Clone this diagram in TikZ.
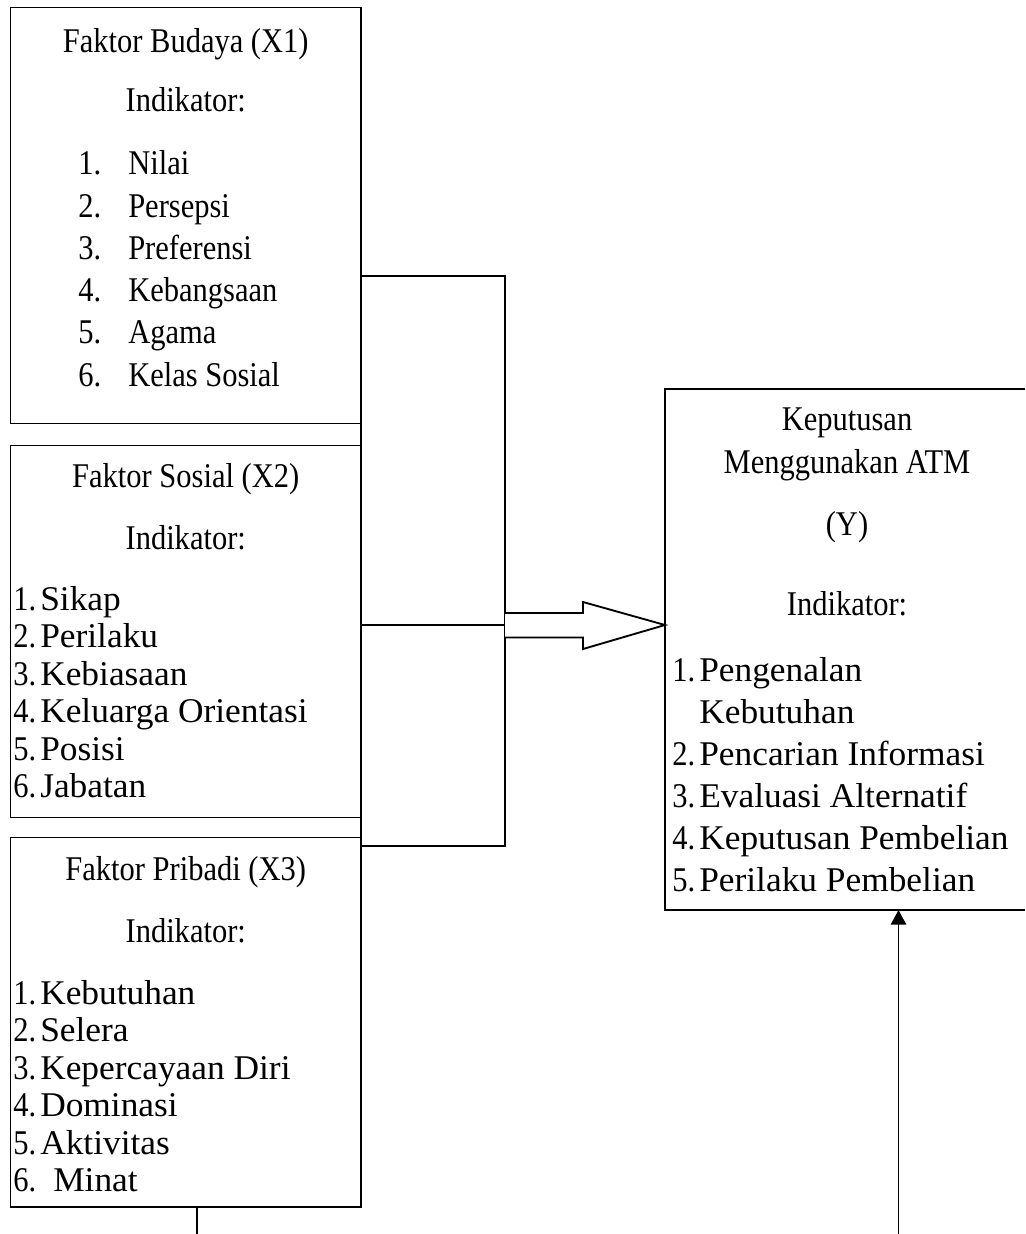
\documentclass[tikz,border=0pt]{standalone}
\usepackage{fontspec}
\setmainfont[FakeStretch=0.88]{Liberation Serif}
\newfontfamily\widefont[FakeStretch=1.02]{Liberation Serif}
\usetikzlibrary{fit,arrows.meta}
\begin{document}
\begin{tikzpicture}[x=0.75pt,y=-0.75pt,
  box/.style={draw, line width=1.4pt, inner sep=0pt, outer sep=0pt},
  txt/.style={font=\fontsize{26pt}{30pt}\selectfont, inner sep=0pt, anchor=base},
  item/.style={txt, anchor=base west},
  witem/.style={item, font=\fontsize{26pt}{30pt}\widefont},
  conn/.style={line width=1.4pt}]
\useasboundingbox (0,0) rectangle (1025,1234);

% boxes
\node[box, fit={(10.5,7.5) (361,423.5)}] (x1) {};
\node[box, fit={(10.5,445.5) (361,817.5)}] (x2) {};
\node[box, fit={(10.5,837.5) (361,1207)}] (x3) {};
\node[inner sep=0pt, outer sep=0pt, fit={(665,389) (1025,910)}] (y) {};
\draw[conn] (y.north east) -- (y.north west) -- (y.south west) -- (y.south east);

% X1
\node[txt] (x1title) at (185.75,53) {Faktor Budaya (X1)};
\node[txt] (x1ind) at (185.75,112) {Indikator:};
\foreach \t [count=\i] in {Nilai,Persepsi,Preferensi,Kebangsaan,Agama,Kelas Sosial} {
  \node[item] (x1n\i) at (78,{175+42.2*(\i-1)}) {\i.};
  \node[item] (x1t\i) at (128,{175+42.2*(\i-1)}) {\t};
}

% X2
\node[txt] (x2title) at (185.75,487) {Faktor Sosial (X2)};
\node[txt] (x2ind) at (185.75,549) {Indikator:};
\foreach \t [count=\i] in {Sikap,Perilaku,Kebiasaan,Keluarga Orientasi,Posisi,Jabatan} {
  \node[item] (x2n\i) at (13,{610+37.5*(\i-1)}) {\i.};
  \node[witem] (x2t\i) at (40,{610+37.5*(\i-1)}) {\t};
}

% X3
\node[txt] (x3title) at (185.75,880) {Faktor Pribadi (X3)};
\node[txt] (x3ind) at (185.75,942) {Indikator:};
\foreach \t/\xx [count=\i] in {Kebutuhan/40,Selera/40,Kepercayaan Diri/40,Dominasi/40,Aktivitas/40,Minat/53} {
  \node[item] (x3n\i) at (13,{1004+37.5*(\i-1)}) {\i.};
  \node[witem] (x3t\i) at (\xx,{1004+37.5*(\i-1)}) {\t};
}

% Y
\node[txt] (yt1) at (847,430) {Keputusan};
\node[txt] (yt2) at (847,473) {Menggunakan ATM};
\node[txt] (yt3) at (847,535) {(Y)};
\node[txt] (yind) at (847,615) {Indikator:};
\node[item] (yn1) at (672,681) {1.};
\node[witem] (yi1) at (699,681) {Pengenalan};
\node[witem] (yi1b) at (699,723) {Kebutuhan};
\foreach \t [count=\i from 2] in {Pencarian Informasi,Evaluasi Alternatif,Keputusan Pembelian,Perilaku Pembelian} {
  \node[item] (yn\i) at (672,{765+42.2*(\i-2)}) {\i.};
  \node[witem] (yi\i) at (699,{765+42.2*(\i-2)}) {\t};
}

% connectors
\coordinate (bt) at (505,276);
\coordinate (bb) at (505,846);
\coordinate (bm) at (505,625);
\draw[conn] (x1.south east) -- (x2.north east);
\draw[conn] (x2.south east) -- (x3.north east);
\draw[conn] (x1.east |- bt) -- (bt) -- (bb) -- (x3.east |- bb);
\draw[conn] (x2.east |- bm) -- (bm);
\draw[conn, line join=miter, fill=white] (505,613) -- (583,613) -- (583,602) -- (y.west |- bm) -- (583,649) -- (583,637.5) -- (505,637.5);

\coordinate (e1) at (197,1234);
\draw[conn] (x3.south -| e1) -- (e1);
\coordinate (e2) at (898.5,1234);
\draw[conn, -{Triangle[length=11pt,width=11.5pt]}] (e2) -- (y.south -| e2);
\end{tikzpicture}
\end{document}
